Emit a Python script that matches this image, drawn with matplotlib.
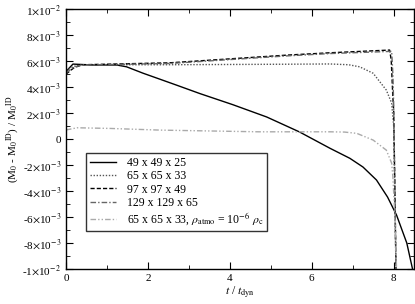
import matplotlib
matplotlib.use("Agg")
import matplotlib.pyplot as plt
from matplotlib.ticker import MultipleLocator, FuncFormatter

plt.rcParams['font.family'] = ['Liberation Serif', 'DejaVu Serif']
plt.rcParams['mathtext.fontset'] = 'stix'

# values in units of 1e-3
t_49 = [0.0, 0.17, 0.66, 1.24, 1.48, 1.88, 2.3, 2.7, 3.27, 4.07, 4.9, 5.7, 6.44, 6.93, 7.25, 7.58, 7.85, 8.07, 8.32, 8.46]
v_49 = [5.2, 5.77, 5.7, 5.7, 5.56, 5.07, 4.6, 4.15, 3.5, 2.65, 1.7, 0.55, -0.7, -1.48, -2.15, -3.15, -4.46, -5.85, -8.0, -10.0]

t_65 = [0.0, 0.2, 0.4, 2.5, 5.4, 6.44, 6.9, 7.17, 7.5, 7.82, 7.95, 8.0, 8.03, 8.06]
v_65 = [5.3, 5.6, 5.72, 5.72, 5.76, 5.78, 5.72, 5.56, 5.06, 3.77, 2.77, 1.0, -5.0, -11.0]

t_97 = [0.0, 0.2, 0.4, 2.54, 5.39, 6.44, 7.9, 7.94, 7.98, 8.0, 8.03, 8.06]
v_97 = [5.0, 5.5, 5.72, 5.87, 6.46, 6.64, 6.85, 6.08, 3.2, 2.2, -4.0, -11.0]

t_129 = [0.0, 0.2, 0.4, 2.54, 5.39, 6.44, 7.95, 7.98, 8.0, 8.03, 8.06]
v_129 = [5.1, 5.55, 5.7, 5.82, 6.4, 6.58, 6.75, 5.0, 2.6, -4.0, -11.0]

t_atm = [0.0, 0.27, 1.07, 2.3, 4.7, 6.44, 6.8, 7.1, 7.5, 7.82, 7.95, 7.98, 8.03, 8.07, 8.09]
v_atm = [0.7, 0.87, 0.82, 0.69, 0.56, 0.56, 0.54, 0.44, -0.08, -0.85, -1.85, -2.9, -6.0, -10.0, -11.0]

labels = ['49 x 49 x 25', '65 x 65 x 33', '97 x 97 x 49', '129 x 129 x 65',
          r'65 x 65 x 33, $\rho_{\mathrm{atmo}}$ = 10$^{-6}$ $\rho_{\mathrm{c}}$']


def sci_label(v, pos):
    if abs(v) < 1e-12:
        return '0'
    e = -2 if abs(v) >= 0.0099 else -3
    m = v / 10 ** e
    return r'%d$\times$10$^{%d}$' % (round(m), e)


fig = plt.figure(figsize=(4.15, 3.04), dpi=100)
ax = fig.add_axes([0.159, 0.115, 0.839, 0.855])

s = 1e-3
ax.plot(t_49, [v * s for v in v_49], color='black', lw=1.0, ls='-', label=labels[0])
ax.plot(t_65, [v * s for v in v_65], color='#555555', lw=1.0, ls=(0, (1, 1.2)), label=labels[1])
ax.plot(t_97, [v * s for v in v_97], color='black', lw=1.0, ls=(0, (3, 1.5)), label=labels[2])
ax.plot(t_129, [v * s for v in v_129], color='#666666', lw=1.0, ls=(0, (4, 1.5, 1, 1.5)), label=labels[3])
ax.plot(t_atm, [v * s for v in v_atm], color='#aaaaaa', lw=1.0,
        ls=(0, (4, 1.5, 1, 1.5, 1, 1.5)), label=labels[4])

ax.set_xlim(0, 8.5)
ax.set_ylim(-0.01, 0.01)
ax.xaxis.set_major_locator(MultipleLocator(2))
ax.xaxis.set_minor_locator(MultipleLocator(1))
ax.yaxis.set_major_locator(MultipleLocator(0.002))
ax.yaxis.set_minor_locator(MultipleLocator(0.001))
ax.yaxis.set_major_formatter(FuncFormatter(sci_label))
ax.tick_params(which='both', direction='in', top=True, right=True, labelsize=8)
ax.tick_params(which='major', length=5)
ax.tick_params(which='minor', length=3)
for sp in ax.spines.values():
    sp.set_linewidth(1.0)

ax.set_xlabel(r'$t$ / $t_{\mathrm{dyn}}$', fontsize=8.5, labelpad=1)
ax.set_ylabel(r'(M$_0$ - M$_0$$^{\mathrm{ID}}$) / M$_0$$^{\mathrm{ID}}$', fontsize=8, labelpad=1)

leg = ax.legend(loc='lower left', bbox_to_anchor=(0.057, 0.146), borderaxespad=0, fontsize=8.5,
                frameon=True, fancybox=False, edgecolor='black', handlelength=2.2,
                borderpad=0.35, labelspacing=0.12, handletextpad=0.9)
leg.get_frame().set_linewidth(1.0)

fig.savefig('out.png', dpi=100)
